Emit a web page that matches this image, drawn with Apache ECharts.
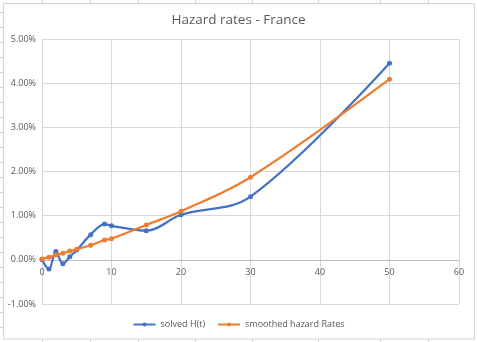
<!DOCTYPE html>
<html><head><meta charset="utf-8">
<script src="https://cdn.jsdelivr.net/npm/echarts@6/dist/echarts.min.js"></script>
<style>html,body{margin:0;padding:0;background:#fff}#c{width:477px;height:342px}</style>
</head><body><div id="c"></div>
<script>
const years = [0, 1, 2, 3, 4, 5, 7, 9, 10, 15, 20, 30, 50];
const solvedH = [0.00, -0.21, 0.19, -0.09, 0.07, 0.22, 0.57, 0.81, 0.77, 0.66, 1.02, 1.43, 4.45];
const smoothedRates = [0.02, 0.06, 0.11, 0.15, 0.20, 0.24, 0.33, 0.45, 0.48, 0.79, 1.10, 1.87, 4.09];
const seriesNames = ['solved H(t)', 'smoothed hazard Rates'];
const xTicks = [0, 10, 20, 30, 40, 50, 60];
const yTicks = [-1, 0, 1, 2, 3, 4, 5];

const pair = (xs, ys) => xs.map((x, i) => [x, ys[i]]);
const txt = '#595959';
const gridC = '#d9d9d9';

const chart = echarts.init(document.getElementById('c'), null, {renderer: 'canvas'});
const topCells = [42, 90, 138, 195, 252, 318, 380, 428];
const g = [];
g.push({type: 'rect', shape: {x: 3.5, y: 3.5, width: 471, height: 335.5}, style: {fill: 'none', stroke: '#d4d4d4', lineWidth: 1}, z: -1});
topCells.forEach(x => {
  g.push({type: 'line', shape: {x1: x + 0.5, y1: 0, x2: x + 0.5, y2: 3}, style: {stroke: '#d4d4d4'}});
  g.push({type: 'line', shape: {x1: x + 0.5, y1: 339, x2: x + 0.5, y2: 342}, style: {stroke: '#d4d4d4'}});
});
for (let y = 12; y < 340; y += 15) {
  g.push({type: 'line', shape: {x1: 0, y1: y + 0.5, x2: 3, y2: y + 0.5}, style: {stroke: '#d4d4d4'}});
}
chart.setOption({
  animation: false,
  backgroundColor: '#fff',
  title: {
    text: 'Hazard rates - France', left: 'center', top: 8,
    textStyle: {fontFamily: 'Open Sans', fontSize: 13.5, fontWeight: 'normal', color: txt}
  },
  legend: {
    bottom: 8, left: 'center', itemWidth: 22, itemHeight: 5, itemGap: 12,
    textStyle: {fontFamily: 'Open Sans', fontSize: 9, color: txt},
    data: seriesNames
  },
  grid: {left: 42, right: 18, top: 39, bottom: 38, containLabel: false},
  xAxis: {
    type: 'value', min: xTicks[0], max: xTicks[xTicks.length - 1], interval: 10,
    offset: -44,
    axisLine: {onZero: false, lineStyle: {color: '#bfbfbf', width: 1}},
    axisTick: {show: false},
    axisLabel: {color: txt, fontFamily: 'Open Sans', fontSize: 9, margin: 8},
    splitLine: {show: true, lineStyle: {color: gridC, width: 1}}
  },
  yAxis: {
    type: 'value', min: yTicks[0], max: yTicks[yTicks.length - 1], interval: 1,
    axisLine: {show: false}, axisTick: {show: false},
    axisLabel: {color: txt, fontFamily: 'Open Sans', fontSize: 9, margin: 6,
      formatter: v => v.toFixed(2) + '%'},
    splitLine: {show: true, lineStyle: {color: gridC, width: 1}}
  },
  series: [
    {name: seriesNames[0], type: 'line', data: pair(years, solvedH), smooth: 0.35,
      symbol: 'circle', symbolSize: 5, z: 2,
      itemStyle: {color: '#4472C4'}, lineStyle: {color: '#4472C4', width: 2.25}},
    {name: seriesNames[1], type: 'line', data: pair(years, smoothedRates), smooth: 0.35,
      symbol: 'circle', symbolSize: 5, z: 3,
      itemStyle: {color: '#ED7D31'}, lineStyle: {color: '#ED7D31', width: 2.25}}
  ],
  graphic: g
});
</script></body></html>
